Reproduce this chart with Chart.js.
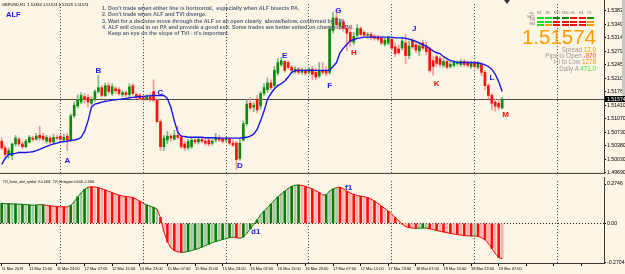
<!DOCTYPE html>
<html><head><meta charset="utf-8">
<script src="https://cdn.jsdelivr.net/npm/chart.js@4/dist/chart.umd.min.js"></script>
<style>
html,body{margin:0;padding:0;background:#fdf5e6;}
#wrap{position:relative;width:625px;height:274px;overflow:hidden;background:#fdf5e6;font-family:"Liberation Sans",Arial,sans-serif;}
canvas{position:absolute;left:0;}
#c1{top:0;} #c2{top:177px;}
#panel{position:absolute;left:0;top:0;width:625px;height:80px;pointer-events:none;}
.t{position:absolute;white-space:nowrap;line-height:1;}
.hd{font-size:3.4px;color:#777;top:12px;}
.rl{font-size:2.6px;color:#777;left:521px;width:14px;text-align:right;}
.cell{position:absolute;width:7px;height:2px;}
.info{font-size:6.3px;color:#9a9a9a;right:29px;text-align:right;}
#scroll{position:absolute;left:622px;top:0;width:3px;height:96px;background:#c8c8c8;}
#shift{position:absolute;left:504px;top:0;width:0;height:0;border-left:3px solid transparent;border-right:3px solid transparent;border-top:4px solid #333;}
</style></head>
<body>
<div id="wrap">
<canvas id="c1" width="625" height="178"></canvas>
<canvas id="c2" width="625" height="97"></canvas>
<div id="panel"></div>
<div id="scroll"></div>
<div id="shift"></div>
</div>
<script>
// ---------- data ----------
const slotCount = 175;
const labelEvery = 8;
const timeLabels = ['11 Mar 2019','11 Mar 15:00','11 Mar 23:00','12 Mar 07:00','12 Mar 15:00','14 Mar 23:00','15 Mar 07:00','15 Mar 15:00','15 Mar 23:00','16 Mar 07:00','16 Mar 15:00','16 Mar 23:00','17 Mar 07:00','17 Mar 15:00','17 Mar 23:00','18 Mar 07:00','18 Mar 15:00','18 Mar 23:00','19 Mar 07:00'];
const separatorBars = [17, 41, 65, 89, 113, 137, 161];
const priceTicks = [1.53830, 1.53490, 1.53140, 1.52790, 1.52450, 1.52100, 1.51760, 1.51410, 1.51070, 1.50730, 1.50380, 1.50030, 1.49690];
const tviTicks = [0.2746, 0, -0.2704];

const openP = [1.5050,1.5033,1.5016,1.5013,1.5043,1.5055,1.5043,1.5036,1.5048,1.5058,1.5055,1.5065,1.5063,1.5050,1.5058,1.5048,1.5060,1.5063,1.5053,1.5063,
1.5053,1.5115,1.5140,1.5150,1.5164,1.5162,1.5147,1.5157,1.5177,1.5187,1.5167,1.5192,1.5172,1.5184,1.5182,1.5169,1.5174,1.5169,1.5192,1.5169,
1.5167,1.5162,1.5157,1.5164,1.5177,1.5155,1.5100,1.5036,1.5053,1.5063,1.5055,1.5065,1.5060,1.5043,1.5033,1.5036,1.5053,1.5048,1.5055,1.5050,
1.5053,1.5045,1.5053,1.5058,1.5055,1.5053,1.5055,1.5045,1.5045,1.5006,1.5053,1.5095,1.5147,1.5137,1.5157,1.5140,1.5172,1.5182,1.5199,1.5192,
1.5224,1.5246,1.5254,1.5251,1.5239,1.5229,1.5234,1.5226,1.5231,1.5226,1.5234,1.5226,1.5217,1.5231,1.5231,1.5226,1.5333,1.5365,1.5345,1.5355,
1.5338,1.5328,1.5303,1.5321,1.5338,1.5328,1.5321,1.5323,1.5318,1.5316,1.5313,1.5298,1.5301,1.5311,1.5291,1.5286,1.5288,1.5301,1.5269,1.5306,
1.5296,1.5281,1.5301,1.5293,1.5286,1.5256,1.5266,1.5261,1.5244,1.5254,1.5241,1.5244,1.5249,1.5246,1.5254,1.5249,1.5241,1.5251,1.5239,1.5246,
1.5226,1.5192,1.5167,1.5150,1.5147,1.5135];
const highP = [1.5058,1.5038,1.5033,1.5045,1.5065,1.5060,1.5050,1.5055,1.5065,1.5063,1.5070,1.5088,1.5070,1.5065,1.5063,1.5068,1.5065,1.5068,1.5068,1.5070,
1.5120,1.5150,1.5169,1.5174,1.5172,1.5169,1.5164,1.5182,1.5219,1.5192,1.5199,1.5199,1.5197,1.5189,1.5187,1.5179,1.5179,1.5197,1.5197,1.5174,
1.5172,1.5167,1.5169,1.5172,1.5207,1.5157,1.5105,1.5065,1.5075,1.5068,1.5078,1.5088,1.5065,1.5050,1.5055,1.5058,1.5058,1.5060,1.5060,1.5058,
1.5058,1.5055,1.5070,1.5065,1.5060,1.5060,1.5060,1.5053,1.5050,1.5058,1.5102,1.5157,1.5162,1.5150,1.5167,1.5177,1.5197,1.5212,1.5207,1.5241,
1.5261,1.5264,1.5256,1.5256,1.5244,1.5241,1.5239,1.5236,1.5236,1.5239,1.5241,1.5236,1.5251,1.5251,1.5241,1.5345,1.5380,1.5385,1.5363,1.5360,
1.5345,1.5341,1.5328,1.5348,1.5343,1.5333,1.5328,1.5328,1.5323,1.5321,1.5318,1.5313,1.5318,1.5316,1.5301,1.5296,1.5316,1.5323,1.5306,1.5313,
1.5303,1.5301,1.5308,1.5303,1.5291,1.5266,1.5271,1.5266,1.5261,1.5259,1.5254,1.5256,1.5256,1.5259,1.5259,1.5256,1.5254,1.5256,1.5254,1.5251,
1.5231,1.5197,1.5172,1.5157,1.5157,1.5162];
const lowP = [1.5028,1.5008,1.5006,1.5003,1.5038,1.5038,1.5031,1.5033,1.5045,1.5050,1.5053,1.5053,1.5050,1.5045,1.5043,1.5045,1.5053,1.5050,1.5048,1.5026,
1.5048,1.5110,1.5135,1.5145,1.5147,1.5137,1.5142,1.5152,1.5172,1.5162,1.5164,1.5172,1.5167,1.5172,1.5167,1.5164,1.5164,1.5164,1.5167,1.5159,
1.5155,1.5152,1.5155,1.5152,1.5150,1.5097,1.5026,1.5026,1.5043,1.5050,1.5053,1.5055,1.5031,1.5026,1.5028,1.5031,1.5043,1.5043,1.5045,1.5040,
1.5038,1.5040,1.5048,1.5050,1.5045,1.5048,1.5040,1.5036,1.4978,1.5001,1.5050,1.5090,1.5130,1.5125,1.5122,1.5132,1.5167,1.5174,1.5182,1.5187,
1.5219,1.5241,1.5226,1.5234,1.5226,1.5224,1.5221,1.5221,1.5219,1.5221,1.5207,1.5207,1.5212,1.5221,1.5217,1.5221,1.5326,1.5338,1.5336,1.5331,
1.5281,1.5293,1.5296,1.5316,1.5318,1.5316,1.5313,1.5311,1.5308,1.5306,1.5296,1.5293,1.5296,1.5283,1.5266,1.5271,1.5283,1.5249,1.5261,1.5286,
1.5276,1.5269,1.5283,1.5271,1.5226,1.5219,1.5241,1.5239,1.5239,1.5234,1.5236,1.5239,1.5244,1.5241,1.5241,1.5239,1.5236,1.5236,1.5234,1.5217,
1.5182,1.5159,1.5130,1.5127,1.5130,1.5132];
const closeP = [1.5033,1.5016,1.5026,1.5043,1.5058,1.5043,1.5036,1.5050,1.5060,1.5055,1.5063,1.5058,1.5055,1.5060,1.5048,1.5060,1.5058,1.5055,1.5060,1.5053,
1.5115,1.5142,1.5155,1.5167,1.5157,1.5150,1.5157,1.5177,1.5187,1.5167,1.5192,1.5177,1.5189,1.5179,1.5172,1.5174,1.5169,1.5189,1.5172,1.5164,
1.5159,1.5157,1.5164,1.5157,1.5155,1.5100,1.5036,1.5058,1.5063,1.5058,1.5065,1.5060,1.5036,1.5033,1.5050,1.5053,1.5048,1.5055,1.5050,1.5045,
1.5043,1.5050,1.5058,1.5053,1.5050,1.5055,1.5045,1.5040,1.5003,1.5045,1.5095,1.5145,1.5135,1.5142,1.5130,1.5172,1.5187,1.5199,1.5187,1.5231,
1.5251,1.5256,1.5231,1.5239,1.5231,1.5234,1.5226,1.5231,1.5224,1.5234,1.5221,1.5214,1.5231,1.5226,1.5224,1.5336,1.5365,1.5348,1.5355,1.5338,
1.5326,1.5306,1.5318,1.5338,1.5323,1.5321,1.5323,1.5316,1.5313,1.5311,1.5301,1.5308,1.5313,1.5288,1.5274,1.5276,1.5306,1.5269,1.5293,1.5291,
1.5283,1.5293,1.5288,1.5279,1.5231,1.5241,1.5249,1.5246,1.5254,1.5239,1.5246,1.5251,1.5251,1.5254,1.5246,1.5244,1.5249,1.5241,1.5249,1.5226,
1.5192,1.5167,1.5147,1.5140,1.5137,1.51574];
const alf = [1.4991,1.5006,1.5016,1.5018,1.5019,1.5021,1.5021,1.5021,1.5022,1.5023,
1.5026,1.5029,1.5033,1.5037,1.5040,1.5043,1.5045,1.5048,1.5049,1.5050,
1.5052,1.5053,1.5055,1.5060,1.5075,1.5102,1.5137,1.5145,1.5147,1.5150,
1.5152,1.5153,1.5155,1.5156,1.5157,1.5158,1.5159,1.5161,1.5162,1.5163,
1.5164,1.5164,1.5166,1.5166,1.5167,1.5167,1.5167,1.5167,1.5159,1.5137,
1.5102,1.5073,1.5063,1.5062,1.5060,1.5060,1.5060,1.5060,1.5060,1.5059,
1.5059,1.5059,1.5059,1.5058,1.5058,1.5058,1.5058,1.5058,1.5058,1.5058,
1.5059,1.5060,1.5063,1.5068,1.5080,1.5102,1.5127,1.5157,1.5172,1.5184,
1.5192,1.5197,1.5204,1.5214,1.5226,1.5230,1.5231,1.5231,1.5231,1.5231,
1.5231,1.5231,1.5231,1.5231,1.5231,1.5231,1.5241,1.5251,1.5276,1.5288,
1.5298,1.5306,1.5310,1.5313,1.5314,1.5316,1.5316,1.5316,1.5316,1.5316,
1.5316,1.5316,1.5316,1.5316,1.5314,1.5314,1.5314,1.5313,1.5311,1.5308,
1.5305,1.5301,1.5297,1.5293,1.5287,1.5281,1.5276,1.5274,1.5266,1.5261,
1.5256,1.5254,1.5251,1.5251,1.5251,1.5251,1.5251,1.5251,1.5250,1.5248,
1.5245,1.5241,1.5234,1.5221,1.5202,1.5177];
const tvi = [0.140,0.138,0.137,0.136,0.135,0.134,0.133,0.131,0.129,0.127,
0.128,0.131,0.130,0.126,0.122,0.119,0.117,0.116,0.115,0.115,
0.125,0.150,0.185,0.212,0.238,0.252,0.256,0.254,0.249,0.242,
0.233,0.224,0.214,0.205,0.197,0.191,0.187,0.185,0.180,0.168,
0.155,0.140,0.128,0.120,0.112,0.100,0.040,-0.060,-0.130,-0.170,
-0.190,-0.199,-0.202,-0.201,-0.196,-0.190,-0.183,-0.175,-0.166,-0.155,
-0.145,-0.135,-0.127,-0.120,-0.113,-0.107,-0.100,-0.096,-0.100,-0.104,
-0.095,-0.070,-0.040,-0.005,0.025,0.060,0.085,0.110,0.135,0.160,
0.185,0.205,0.225,0.243,0.258,0.266,0.268,0.265,0.258,0.250,
0.240,0.228,0.215,0.198,0.200,0.225,0.240,0.250,0.252,0.240,
0.225,0.212,0.202,0.195,0.190,0.186,0.180,0.170,0.155,0.140,
0.120,0.105,0.085,0.065,0.040,0.020,-0.005,-0.022,-0.030,-0.033,
-0.034,-0.034,-0.032,-0.033,-0.038,-0.043,-0.050,-0.055,-0.060,-0.065,
-0.070,-0.074,-0.078,-0.082,-0.085,-0.087,-0.088,-0.088,-0.090,-0.100,
-0.115,-0.140,-0.175,-0.210,-0.240,-0.2466];
const tviTrend = [1,1,1,1,1,1,1,1,1,1,1,1,1,-1,-1,-1,-1,-1,-1,-1,
1,1,1,1,1,1,-1,-1,-1,-1,-1,-1,-1,-1,-1,-1,-1,-1,-1,-1,
-1,-1,1,1,1,1,-1,-1,-1,-1,-1,-1,-1,1,1,1,1,1,1,1,
1,1,1,1,1,1,1,1,-1,-1,1,1,1,1,1,1,1,1,1,1,
1,1,1,1,1,1,1,-1,-1,-1,-1,-1,-1,-1,1,1,1,1,-1,-1,
-1,-1,-1,-1,-1,-1,-1,-1,-1,-1,-1,-1,-1,-1,-1,-1,-1,-1,-1,-1,
-1,1,1,1,-1,-1,-1,-1,-1,-1,-1,-1,-1,-1,-1,-1,-1,1,-1,-1,
-1,-1,-1,-1,-1,-1];

const markLetters = ['A','B','C','D','E','F','G','H','J','K','L','M'];
const markBars    = [19, 28, 46, 69, 82, 95, 97.5, 102, 119.5, 126, 142, 146];
const markPrices  = [1.5001, 1.5229, 1.5174, 1.4988, 1.5269, 1.5192, 1.5383, 1.5276, 1.5338, 1.5197, 1.5212, 1.5117];
const markSide    = ['buy','buy','buy','buy','buy','buy','buy','sell','buy','sell','buy','sell'];
const tviMarkText = ['d1','f1'];
const tviMarkBars = [73.6, 100.5];
const tviMarkValues = [-0.062, 0.251];

const symbolHeader = 'GBPUSD,H1  1.51334 1.51574 1.51329 1.51574';
const tviHeader = 'TVI_3color_alert_symbol_tf -0.2466   TVI_Histogram 0.0000 -0.2466';
const notes = [
  "1. Don't trade when either line is horizontal,  especially when ALF bisects PA.",
  "2. Don't trade when ALF and TVI diverge.",
  "3. Wait for a decisive move through the ALF or an open clearly  above/below, confirmed by TVI.",
  "4. ALF will close in on PA and provide a good exit. Some trades are better exited on change in TVI.",
  "    Keep an eye on the slope of TVI - it's important."
];
const sigCols = ['M1','M5','M15','M30','H1','H4','D1'];
const sigRows = ['MACD','STR','EMA'];
const sigState = [
  ['up','up','up2','up2','dn','dn','up2'],
  ['up','up','dn','dn','dn','dn','flat'],
  ['up','flat','dn','dn','dn','dn','flat']
];
const infoLines = [['Spread ','12.0'],['Pips to Open ','-970'],['Hi to Low ','1278'],['Daily A ','471.0']];

// ---------- info panel (HTML) ----------
const panel = document.getElementById('panel');
const sigColor = {up:'#22dd22', up2:'#0a8a0a', dn:'#ee1111', flat:'#ff9900'};
function addDiv(cls, txt, css){ const d=document.createElement('div'); d.className=cls; if(txt!==null) d.textContent=txt; Object.assign(d.style, css); panel.appendChild(d); return d; }
addDiv('t hd','sig',{left:'529px'});
sigCols.forEach((c,j)=> addDiv('t hd', c, {left:(537+j*8.4)+'px'}));
sigRows.forEach((r,i)=>{
  addDiv('t rl', r, {top:(16.8+i*3.4)+'px'});
  sigCols.forEach((c,j)=> addDiv('cell', null, {left:(536.5+j*8.4)+'px', top:(17.4+i*3.4)+'px', background:sigColor[sigState[i][j]]}));
});
addDiv('t','1.51574',{fontSize:'20.5px',color:'#ff9c00',right:'29px',top:'27px'});
const infoColors = ['#ff9900','#ff3300','#ff9900','#33ee33'];
infoLines.forEach((l,i)=>{
  const d = addDiv('t info', null, {top:(46.5+i*6.4)+'px'});
  d.innerHTML = l[0] + '<span style="color:'+infoColors[i]+'">' + l[1] + '</span>';
});

// ---------- charts ----------
const categories = Array.from({length: slotCount}, (_, i) => i);
const FONT = '"Liberation Sans", Arial, sans-serif';
const isUp = i => closeP[i] >= openP[i];

const deco1 = {
  id: 'deco1',
  beforeDatasetsDraw(chart){
    const {ctx, chartArea:a, scales:{y}} = chart;
    const py = Math.round(y.getPixelForValue(closeP[closeP.length-1])) + 0.5;
    ctx.save(); ctx.strokeStyle = '#4a4a4a'; ctx.lineWidth = 1;
    ctx.beginPath(); ctx.moveTo(a.left, py); ctx.lineTo(a.right, py); ctx.stroke(); ctx.restore();
  },
  afterDraw(chart){
    const {ctx, chartArea:a, scales:{x, y}} = chart;
    ctx.save();
    ctx.strokeStyle = '#3a3a3a'; ctx.lineWidth = 1;
    ctx.beginPath();
    ctx.moveTo(0, a.bottom - 0.5); ctx.lineTo(a.right, a.bottom - 0.5);
    ctx.moveTo(a.right + 0.5, 0); ctx.lineTo(a.right + 0.5, a.bottom);
    ctx.stroke();
    ctx.textBaseline = 'middle';
    ctx.fillStyle = '#000'; ctx.font = '4px ' + FONT; ctx.textAlign = 'left';
    ctx.fillText(symbolHeader, 2, 5);
    ctx.fillStyle = '#1a1aee'; ctx.font = 'bold 7.5px ' + FONT;
    ctx.fillText('ALF', 6, 14.5);
    ctx.fillStyle = '#56677b'; ctx.font = 'bold 5.4px ' + FONT;
    notes.forEach((t,i)=> ctx.fillText(t, 102, 8.3 + i*6.4));
    ctx.font = 'bold 8px ' + FONT; ctx.textAlign = 'center';
    markLetters.forEach((t,i)=>{
      ctx.fillStyle = markSide[i] === 'sell' ? '#ee1111' : '#1a1aee';
      ctx.fillText(t, x.getPixelForValue(markBars[i]), y.getPixelForValue(markPrices[i]));
    });
    const last = closeP[closeP.length-1];
    const py = Math.round(y.getPixelForValue(last));
    ctx.fillStyle = '#000'; ctx.fillRect(a.right + 1, py - 3, 625 - a.right, 6);
    ctx.fillStyle = '#fff'; ctx.font = '5.2px ' + FONT; ctx.textAlign = 'left';
    ctx.fillText(last.toFixed(5), a.right + 3, py + 0.3);
    ctx.restore();
  }
};

new Chart(document.getElementById('c1'), {
  type: 'bar',
  data: {
    labels: categories,
    datasets: [
      {type:'line', label:'ALF', data: alf, borderColor:'#1515e6', borderWidth:1.4, pointRadius:0, tension:0, order:0},
      {label:'body', data: openP.map((o,i)=>[o, closeP[i]]), backgroundColor: openP.map((o,i)=> isUp(i) ? '#0a8c0a' : '#ff0d0d'), barThickness:2, grouped:false, order:1},
      {label:'wick', data: lowP.map((l,i)=>[l, highP[i]]), backgroundColor: openP.map((o,i)=> isUp(i) ? '#7dbb7d' : '#f39a9a'), barThickness:1, grouped:false, order:2}
    ]
  },
  options: {
    responsive:false, animation:false, events:[],
    layout:{padding:{top:2, bottom:1, left:0, right:0}},
    plugins:{legend:{display:false}, tooltip:{enabled:false}},
    scales:{
      x:{type:'category', offset:true,
         grid:{offset:false, drawTicks:false, lineWidth:1, color: c => separatorBars.includes(c.index) ? '#3a3a3a' : 'rgba(0,0,0,0)'},
         border:{display:false, dash:[1,2]},
         ticks:{display:false}, afterFit: s => { s.height = 0; }},
      y:{position:'right', min:1.49665, max:1.54004,
         afterBuildTicks: s => { s.ticks = priceTicks.map(v => ({value:v})); },
         afterFit: s => { s.width = 21; },
         grid:{drawOnChartArea:false, drawTicks:true, tickLength:2, tickColor:'#000'},
         border:{display:false},
         ticks:{font:{size:5.2, family:FONT}, color:'#000', padding:1, callback: v => Number(v).toFixed(5)}}
    }
  },
  plugins:[deco1]
});

const deco2 = {
  id:'deco2',
  afterDraw(chart){
    const {ctx, chartArea:a, scales:{x, y}} = chart;
    ctx.save();
    ctx.strokeStyle = '#3a3a3a'; ctx.lineWidth = 1;
    ctx.beginPath();
    ctx.moveTo(0, a.bottom - 0.5); ctx.lineTo(a.right, a.bottom - 0.5);
    ctx.moveTo(a.right + 0.5, 0); ctx.lineTo(a.right + 0.5, a.bottom);
    ctx.stroke();
    ctx.textBaseline = 'middle'; ctx.textAlign = 'left';
    ctx.fillStyle = '#000'; ctx.font = '3px ' + FONT;
    ctx.fillText(tviHeader, 3, 5.5);
    ctx.fillStyle = '#1a1aee'; ctx.font = 'bold 8px ' + FONT; ctx.textAlign = 'center';
    tviMarkText.forEach((t,i)=> ctx.fillText(t, x.getPixelForValue(tviMarkBars[i]), y.getPixelForValue(tviMarkValues[i])));
    ctx.restore();
  }
};

new Chart(document.getElementById('c2'), {
  type:'bar',
  data:{
    labels: categories,
    datasets:[
      {type:'line', data: tvi, borderWidth:1, pointRadius:0, tension:0, order:0,
       borderColor:'#ff0d0d',
       segment:{borderColor: s => tviTrend[s.p1DataIndex] > 0 ? '#0a7a0a' : '#ff0d0d'}},
      {data: tvi, barThickness:2, grouped:false, order:1,
       backgroundColor: tvi.map((v,i)=> tviTrend[i] > 0 ? (i % 2 ? '#a3c9a0' : '#0a7a0a') : (i % 2 ? '#ffb0b0' : '#ff0d0d'))}
    ]
  },
  options:{
    responsive:false, animation:false, events:[],
    layout:{padding:{top:1, bottom:0, left:0, right:0}},
    plugins:{legend:{display:false}, tooltip:{enabled:false}},
    scales:{
      x:{type:'category', offset:true,
         grid:{offset:false, drawTicks:true, tickLength:2, lineWidth:1,
               color: c => separatorBars.includes(c.index) ? '#3a3a3a' : 'rgba(0,0,0,0)',
               tickColor: c => c.index % labelEvery === 0 ? '#000' : 'rgba(0,0,0,0)'},
         border:{display:false, dash:[1,2]},
         ticks:{autoSkip:false, maxRotation:0, minRotation:0, align:'start', padding:0.5,
                font:{size:3.9, family:FONT}, color:'#000',
                callback:(v,i)=> i % labelEvery === 0 ? (timeLabels[i/labelEvery] || '') : ''},
         afterFit: s => { s.height = 10; }},
      y:{position:'right', min:-0.2838, max:0.295,
         afterBuildTicks: s => { s.ticks = tviTicks.map(v => ({value:v})); },
         afterFit: s => { s.width = 21; },
         grid:{drawTicks:true, tickLength:2, tickColor:'#000',
               color: c => (c.tick && c.tick.value === 0) ? '#222' : 'rgba(0,0,0,0)'},
         border:{display:false, dash:[1,2]},
         ticks:{font:{size:5.2, family:FONT}, color:'#000', padding:1,
                callback: v => v === 0 ? '0.00' : Number(v).toFixed(4)}}
    }
  },
  plugins:[deco2]
});
</script>
</body></html>
